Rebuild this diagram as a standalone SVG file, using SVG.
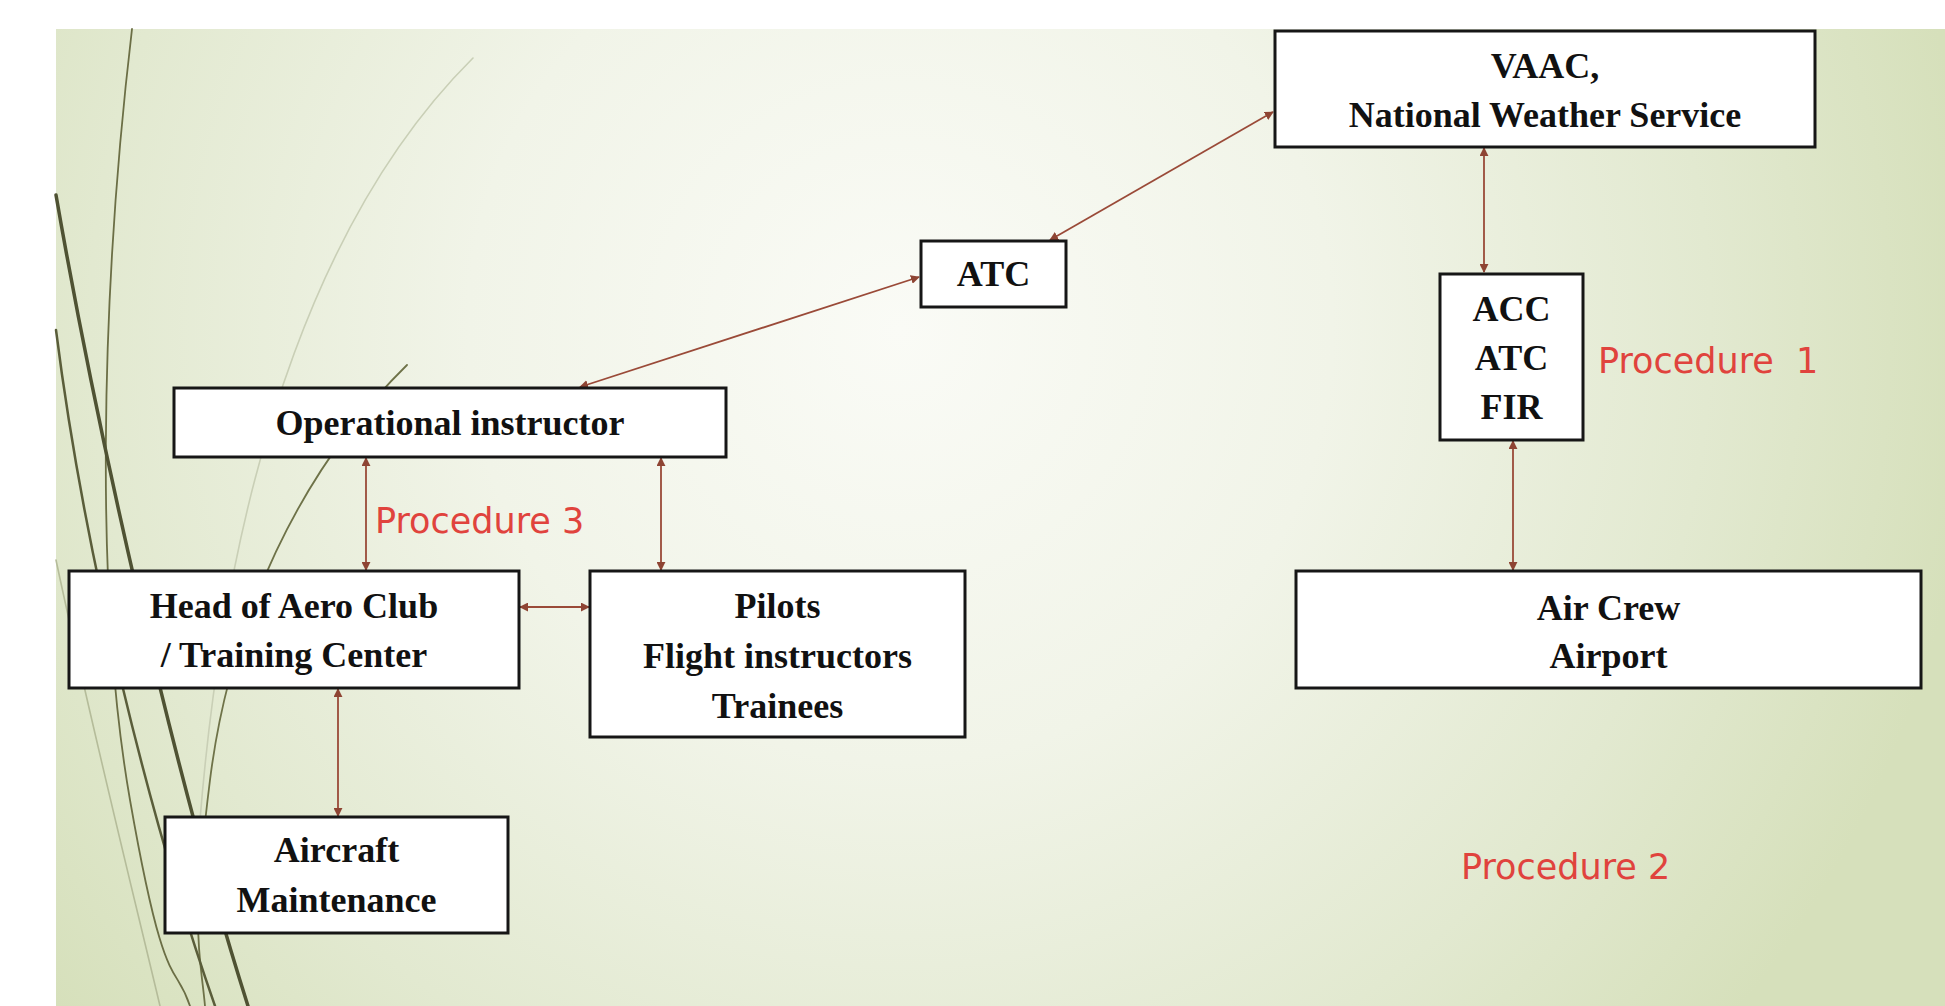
<svg xmlns="http://www.w3.org/2000/svg" width="1945" height="1006" viewBox="0 0 1945 1006">
<defs>
<radialGradient id="bg" gradientUnits="userSpaceOnUse" cx="900" cy="330" r="1080">
<stop offset="0" stop-color="#fafbf6"/>
<stop offset="0.4" stop-color="#f1f4e8"/>
<stop offset="0.75" stop-color="#e2e9d0"/>
<stop offset="1" stop-color="#d6e0bb"/>
</radialGradient>
<marker id="ah" viewBox="0 0 10 10" refX="9" refY="5" markerWidth="9" markerHeight="9" markerUnits="userSpaceOnUse" orient="auto-start-reverse">
<path d="M0,0 L10,5 L0,10 z" fill="#8e4433"/>
</marker>
</defs>
<style>
.box{fill:#ffffff;stroke:#161616;stroke-width:3}
.shadow{fill:none;stroke:#6a6a6a;stroke-width:3}
.lbl{font-family:"Liberation Serif","Times New Roman",serif;font-weight:bold;font-size:36px;fill:#111;text-anchor:middle}
.proc{font-family:"DejaVu Sans","Liberation Sans",sans-serif;font-size:35px;fill:#e0433d}
.con{stroke:#9a4a38;stroke-width:1.8;fill:none;marker-start:url(#ah);marker-end:url(#ah)}
.deco{fill:none;stroke-linecap:round}
</style>
<rect x="0" y="0" width="1945" height="1006" fill="#ffffff"/>
<rect x="56" y="29" width="1889" height="977" fill="url(#bg)"/>
<g id="decoration">
<path class="deco" d="M473,58 C330,200 230,450 200,820" stroke="#c9cfb6" stroke-width="1.6"/>
<path class="deco" d="M56,560 C90,720 130,880 160,1006" stroke="#b5bc9a" stroke-width="1.6"/>
<path class="deco" d="M132,29 C100,300 95,600 130,800 S175,960 190,1006" stroke="#6b6e45" stroke-width="1.8"/>
<path class="deco" d="M407,365 C300,470 230,620 210,780 S200,950 205,1006" stroke="#6e7248" stroke-width="1.8"/>
<path class="deco" d="M56,330 C85,560 150,820 215,1006" stroke="#5a5d3a" stroke-width="2.5"/>
<path class="deco" d="M56,195 C95,420 170,760 248,1006" stroke="#4f5233" stroke-width="3.5"/>
</g>
<g id="connectors">
<line class="con" x1="1484" y1="148" x2="1484" y2="272"/>
<line class="con" x1="1513" y1="441" x2="1513" y2="570"/>
<line class="con" x1="1050" y1="240" x2="1273" y2="112"/>
<line class="con" x1="580" y1="387" x2="919" y2="277"/>
<line class="con" x1="366" y1="458" x2="366" y2="570"/>
<line class="con" x1="661" y1="458" x2="661" y2="570"/>
<line class="con" x1="520" y1="607" x2="589" y2="607"/>
<line class="con" x1="338" y1="689" x2="338" y2="816"/>
</g>
<g id="vaac">
<rect class="box" x="1275" y="31" width="540" height="116"/>
<text class="lbl" x="1545" y="78">VAAC,</text>
<text class="lbl" x="1545" y="127">National Weather Service</text>
</g>
<g id="atc">
<rect class="box" x="921" y="241" width="145" height="66"/>
<text class="lbl" x="993.5" y="286">ATC</text>
</g>
<g id="acc">
<rect class="box" x="1440" y="274" width="143" height="166"/>
<text class="lbl" x="1511.5" y="321">ACC</text>
<text class="lbl" x="1511.5" y="370">ATC</text>
<text class="lbl" x="1511.5" y="419">FIR</text>
</g>
<g id="operational">
<rect class="box" x="174" y="388" width="552" height="69"/>
<text class="lbl" x="450" y="435">Operational instructor</text>
</g>
<g id="head">
<rect class="box" x="69" y="571" width="450" height="117"/>
<text class="lbl" x="294" y="618">Head of Aero Club</text>
<text class="lbl" x="294" y="667">/ Training Center</text>
</g>
<g id="pilots">
<rect class="box" x="590" y="571" width="375" height="166"/>
<text class="lbl" x="777.5" y="618">Pilots</text>
<text class="lbl" x="777.5" y="668">Flight instructors</text>
<text class="lbl" x="777.5" y="718">Trainees</text>
</g>
<g id="aircrew">
<rect class="box" x="1296" y="571" width="625" height="117"/>
<text class="lbl" x="1608.5" y="620">Air Crew</text>
<text class="lbl" x="1608.5" y="668">Airport</text>
</g>
<g id="maintenance">
<rect class="box" x="165" y="817" width="343" height="116"/>
<text class="lbl" x="336.5" y="862">Aircraft</text>
<text class="lbl" x="336.5" y="912">Maintenance</text>
</g>
<g id="labels">
<text class="proc" x="1598" y="373" xml:space="preserve">Procedure  1</text>
<text class="proc" x="375" y="533">Procedure 3</text>
<text class="proc" x="1461" y="879">Procedure 2</text>
</g>
</svg>
